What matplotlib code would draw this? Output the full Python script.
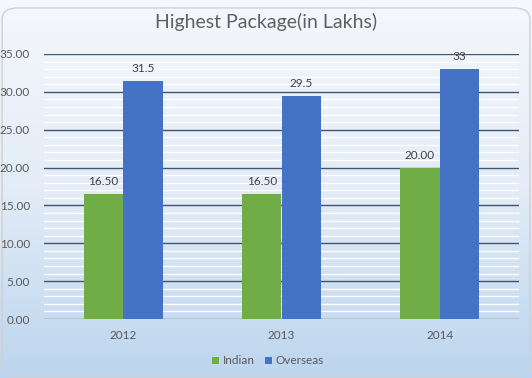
import matplotlib
matplotlib.use("Agg")
import matplotlib.pyplot as plt
import numpy as np
from matplotlib.patches import FancyBboxPatch
from matplotlib.colors import LinearSegmentedColormap

categories = ["2012", "2013", "2014"]
indian = [16.5, 16.5, 20.0]
overseas = [31.5, 29.5, 33.0]
indian_labels = ["16.50", "16.50", "20.00"]
overseas_labels = ["31.5", "29.5", "33"]
yticks = [0, 5, 10, 15, 20, 25, 30, 35]

plt.rcParams['font.family'] = ['Lato', 'DejaVu Sans']

fig = plt.figure(figsize=(5.32, 3.78), dpi=100)

# background gradient
bg = fig.add_axes([0, 0, 1, 1], zorder=-10)
cmap = LinearSegmentedColormap.from_list("g", ["#f5f8fc", "#e3ecf7", "#bcd5ee"])
grad = np.linspace(0, 1, 256).reshape(-1, 1)
bg.imshow(grad, aspect="auto", cmap=cmap, extent=[0, 1, 0, 1], origin="upper")
bg.add_patch(FancyBboxPatch((0.004, 0.004), 0.992, 0.975, boxstyle="round,pad=0,rounding_size=0.03",
                            transform=bg.transAxes, fill=False, ec="#d0d0d0", lw=1))
bg.set_xlim(0, 1); bg.set_ylim(0, 1)
bg.axis("off")

ax = fig.add_axes([44/532, 1-319/378, (519-44)/532, (319-54)/378])
ax.patch.set_alpha(0)

x = np.arange(len(categories))
w = 0.25
b1 = ax.bar(x - w/2, indian, w, color="#70ad47", label="Indian", zorder=3)
b2 = ax.bar(x + w/2, overseas, w, color="#4472c4", label="Overseas", zorder=3)

for rect, lab in zip(b1, indian_labels):
    ax.text(rect.get_x() + rect.get_width()/2, rect.get_height() + 0.9, lab,
            ha="center", va="bottom", fontsize=8.5, color="#404040")
for rect, lab in zip(b2, overseas_labels):
    ax.text(rect.get_x() + rect.get_width()/2, rect.get_height() + 0.9, lab,
            ha="center", va="bottom", fontsize=8.5, color="#404040")

ax.set_xlim(-0.5, 2.5)
ax.set_ylim(0, 35)
ax.set_yticks(yticks)
ax.set_yticklabels([f"{v:.2f}" for v in yticks])
ax.set_yticks(np.arange(0, 35, 1), minor=True)
ax.grid(which="minor", axis="y", color="white", lw=1, zorder=1)
ax.grid(which="major", axis="y", color="#44546a", lw=1, zorder=2)
ax.set_xticks(x)
ax.set_xticklabels(categories)
ax.tick_params(axis="both", which="both", length=0, labelsize=8.5, colors="#595959")
ax.tick_params(axis="y", pad=10)
ax.tick_params(axis="x", pad=8)
for s in ax.spines.values():
    s.set_visible(False)
ax.axhline(0, color="#d9d9d9", lw=1, zorder=2)

fig.text(0.5, 1-22/378, "Highest Package(in Lakhs)", ha="center", va="center",
         fontsize=14, color="#606060")

fig.legend(handles=[b1, b2], labels=["Indian", "Overseas"], loc="center",
           bbox_to_anchor=(268/532, 1-361/378), ncol=2, frameon=False, fontsize=8.5,
           handlelength=0.6, handleheight=0.6, handletextpad=0.3, columnspacing=0.9,
           labelcolor="#595959")

fig.savefig("out.png", dpi=100)
